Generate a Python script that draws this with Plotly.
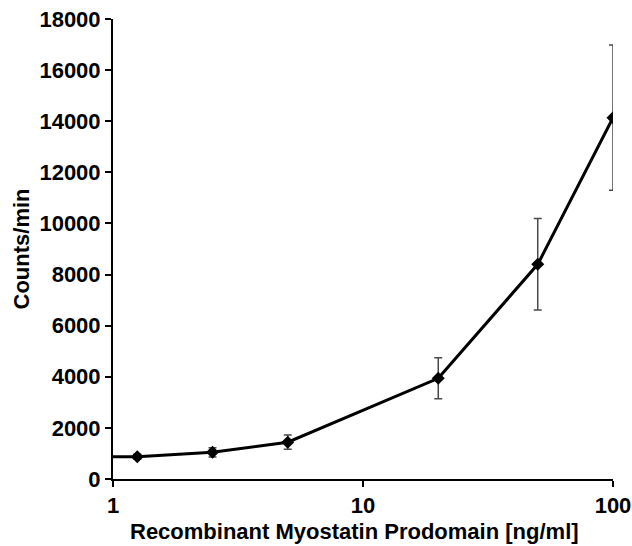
import plotly.graph_objects as go

concentration = [1.25, 2.5, 5, 20, 50, 100]
counts = [873, 1045, 1440, 3940, 8400, 14140]
errors = [100, 180, 280, 800, 1790, 2840]
line_start_x = 1
x_ticks = [1, 10, 100]
y_ticks = [0, 2000, 4000, 6000, 8000, 10000, 12000, 14000, 16000, 18000]
x_title = "Recombinant Myostatin Prodomain [ng/ml]"
y_title = "Counts/min"

font = dict(family="Liberation Sans, Arial", size=22, color="black")

fig = go.Figure()
fig.add_trace(go.Scatter(
    x=[line_start_x] + concentration, y=[counts[0]] + counts,
    mode="lines", line=dict(color="black", width=3), showlegend=False,
    hoverinfo="skip"))
fig.add_trace(go.Scatter(
    x=concentration, y=counts, mode="markers",
    marker=dict(symbol="diamond", size=10, color="black"),
    error_y=dict(type="data", array=errors, visible=True,
                 color="#4a4a4a", thickness=1.5, width=4),
    showlegend=False))

fig.update_layout(
    width=632, height=546,
    margin=dict(l=113, r=19, t=19, b=67),
    paper_bgcolor="white", plot_bgcolor="white",
    font=font,
    xaxis=dict(type="log", range=[0, 2], tickvals=x_ticks,
               ticktext=[f"<b>{v}</b>" for v in x_ticks],
               automargin=False,
               showgrid=False, zeroline=False,
               showline=True, linecolor="black", linewidth=2,
               ticks="outside", ticklen=6, tickwidth=2, tickcolor="black"),
    yaxis=dict(range=[0, 18000], tickvals=y_ticks,
               ticktext=[f"<b>{v}</b>" for v in y_ticks],
               automargin=False,
               showgrid=False, zeroline=False,
               showline=True, linecolor="black", linewidth=2,
               ticks="outside", ticklen=6, tickwidth=2, tickcolor="black",
               title=dict(text=f"<b>{y_title}</b>", standoff=4, font=font)),
    annotations=[dict(text=f"<b>{x_title}</b>", xref="paper", yref="paper",
                      x=0.483, y=-0.115, xanchor="center", yanchor="middle",
                      showarrow=False, font=font)],
)

fig.write_html("out.html")
